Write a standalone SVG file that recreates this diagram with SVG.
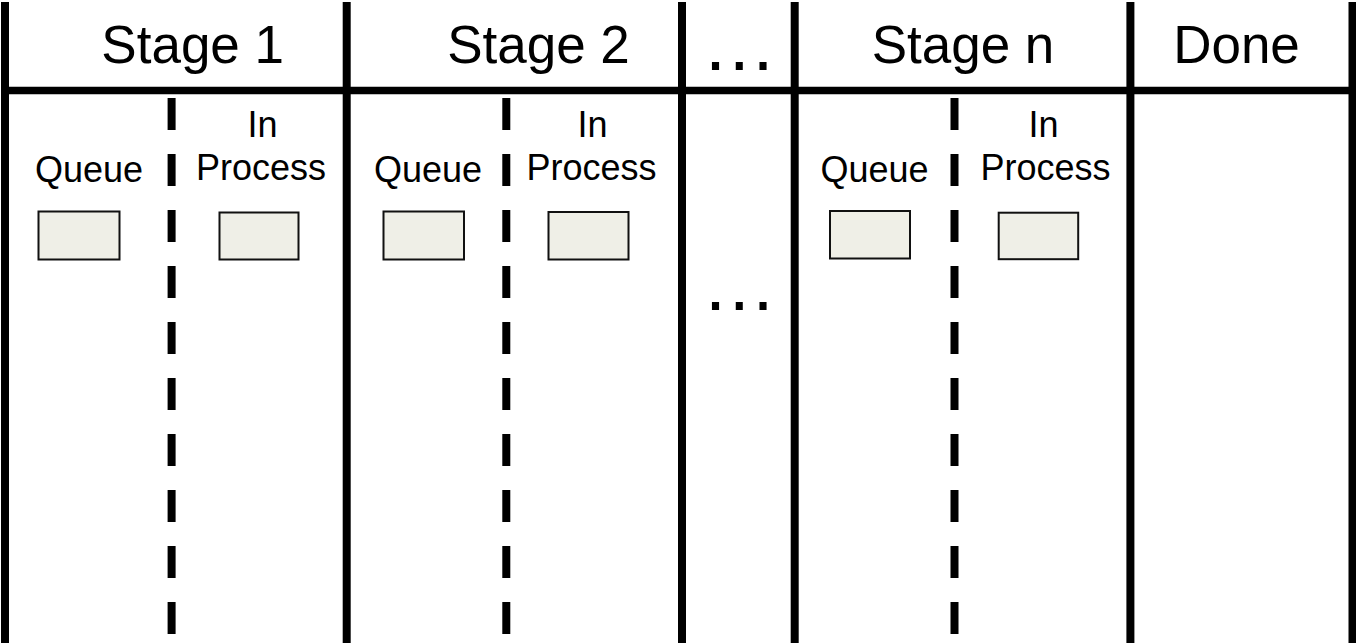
<svg xmlns="http://www.w3.org/2000/svg" width="1356" height="643" viewBox="0 0 1356 643">
  <style>
    .solid { stroke: #000; stroke-width: 8; fill: none; }
    .hline { stroke: #000; stroke-width: 7.5; fill: none; }
    .dash { stroke: #000; stroke-width: 8; stroke-dasharray: 32 24; fill: none; }
    .card { fill: #EFEFE7; stroke: #111; stroke-width: 2; }
    .title { font-family: "Liberation Sans", Arial, sans-serif; font-size: 53px; fill: #000; text-anchor: middle; }
    .sub { font-family: "Liberation Sans", Arial, sans-serif; font-size: 36px; fill: #000; text-anchor: middle; }
    .dots { font-family: "Liberation Sans", Arial, sans-serif; font-size: 75px; fill: #000; text-anchor: middle; }
  </style>
  <rect x="0" y="0" width="1356" height="643" fill="#fff"/>

  <g id="connectors">
    <line class="hline" x1="1" y1="90.5" x2="1356" y2="90.5"/>
    <line class="solid" x1="5" y1="2" x2="5" y2="643"/>
    <line class="solid" x1="346.7" y1="2" x2="346.7" y2="643"/>
    <line class="solid" x1="682" y1="2" x2="682" y2="643"/>
    <line class="solid" x1="794.7" y1="2" x2="794.7" y2="643"/>
    <line class="solid" x1="1130.4" y1="2" x2="1130.4" y2="643"/>
    <line class="solid" x1="1352.5" y1="2" x2="1352.5" y2="643"/>
    <line class="dash" x1="171.6" y1="98" x2="171.6" y2="643"/>
    <line class="dash" x1="506.3" y1="98" x2="506.3" y2="643"/>
    <line class="dash" x1="954.5" y1="98" x2="954.5" y2="643"/>
  </g>

  <g id="stage1">
    <text class="title" x="192.7" y="63">Stage 1</text>
    <text class="sub" x="89" y="182">Queue</text>
    <text class="sub" x="262.5" y="137">In</text>
    <text class="sub" x="261" y="179.5">Process</text>
    <rect id="stage1-queue-card" class="card" x="38.5" y="211.5" width="81" height="48"/>
    <rect id="stage1-process-card" class="card" x="219.5" y="212.5" width="79" height="47"/>
  </g>

  <g id="stage2">
    <text class="title" x="538.5" y="63">Stage 2</text>
    <text class="sub" x="428" y="182">Queue</text>
    <text class="sub" x="592.5" y="137">In</text>
    <text class="sub" x="591.5" y="179.5">Process</text>
    <rect id="stage2-queue-card" class="card" x="383.5" y="211.5" width="80.5" height="48"/>
    <rect id="stage2-process-card" class="card" x="548.5" y="212" width="80" height="47.5"/>
  </g>

  <g id="ellipsis">
    <text class="dots" x="739.2" y="70">…</text>
    <text class="dots" x="739.2" y="310">…</text>
  </g>

  <g id="stagen">
    <text class="title" x="963" y="63">Stage n</text>
    <text class="sub" x="874.5" y="182">Queue</text>
    <text class="sub" x="1043.5" y="137">In</text>
    <text class="sub" x="1045.5" y="179.5">Process</text>
    <rect id="stagen-queue-card" class="card" x="830" y="211" width="80" height="47.5"/>
    <rect id="stagen-process-card" class="card" x="998.7" y="212.7" width="79.5" height="46.5"/>
  </g>

  <g id="done">
    <text class="title" x="1236.5" y="63">Done</text>
  </g>
</svg>
